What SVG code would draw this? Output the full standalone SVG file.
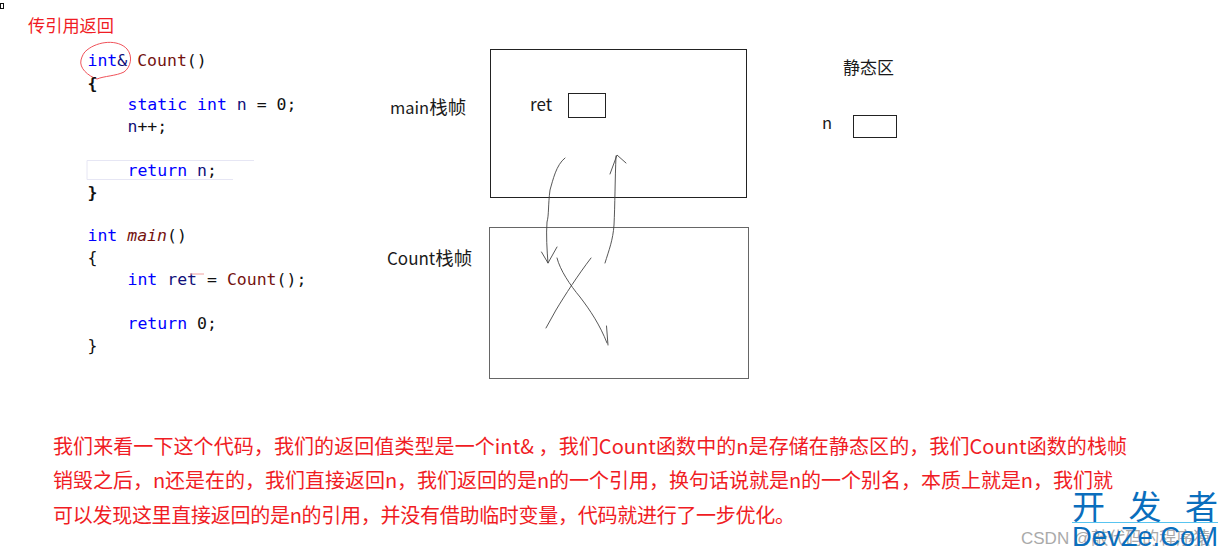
<svg xmlns="http://www.w3.org/2000/svg" width="1228" height="557" viewBox="0 0 1228 557">
<style>
.code{font-family:"DejaVu Sans Mono","Liberation Mono",monospace;font-size:16.5px;fill:#111;white-space:pre}
.k{fill:#0000ff}.f{fill:#74120f}.v{fill:#10107a}
.lab{font-family:"Noto Sans CJK SC","Noto Sans",sans-serif;font-size:16.5px;fill:#1a1a1a}
.cjk{font-size:18.5px}
.red{font-family:"Noto Sans CJK SC","Noto Sans",sans-serif;font-size:20px;fill:#f01c24}
.box{fill:#fff;stroke:#222;stroke-width:1}
.hand{fill:none;stroke:#444;stroke-width:.9;stroke-linecap:round;stroke-linejoin:round}
</style>
<rect width="1228" height="557" fill="#fff"/>
<rect x="0.500" y="3.500" width="3" height="5" fill="none" stroke="#111"/>
<text class="red" x="28" y="32" style="font-size:17.2px">传引用返回</text>
<path d="M87 50C98 41 118 39 127 49C133 56 131 67 124 72C116 76 104 76 97 79C88 76 79 68 81 60C82 56 84 52 87 50Z" fill="none" stroke="#f0525a" stroke-width="1"/>
<g id="code">
<text class="code" x="87.500" y="66"><tspan class="k">int</tspan><tspan class="v">&amp;</tspan> <tspan class="f">Count</tspan>()</text>
<text class="code" x="87.500" y="89" font-weight="bold">{</text>
<text class="code" x="127.500" y="110"><tspan class="k">static int</tspan> <tspan class="v">n</tspan> = 0;</text>
<text class="code" x="127.500" y="132"><tspan class="v">n</tspan>++;</text>
<path d="M254 160.500H87V179.500H233" fill="none" stroke="#e6e6f4" stroke-width="1"/>
<text class="code" x="127.500" y="176"><tspan class="k">return</tspan> <tspan class="v">n</tspan>;</text>
<text class="code" x="87.500" y="198" font-weight="bold">}</text>
<text class="code" x="87.500" y="241"><tspan class="k">int</tspan> <tspan class="f" font-style="italic">main</tspan>()</text>
<text class="code" x="87.500" y="263">{</text>
<text class="code" x="127.500" y="285"><tspan class="k">int</tspan> <tspan class="v">ret</tspan> = <tspan class="f">Count</tspan>();</text>
<path d="M190 274H204" stroke="#f0a0a0" stroke-width="1"/>
<text class="code" x="127.500" y="329"><tspan class="k">return</tspan> 0;</text>
<text class="code" x="87.500" y="351">}</text>
</g>
<g id="main-frame">
<rect class="box" x="490.500" y="49.500" width="256" height="148"/>
<text class="lab" x="390" y="114">main<tspan class="cjk">栈帧</tspan></text>
<text class="lab" x="530" y="111" style="font-size:17px">ret</text>
<rect class="box" x="568.500" y="93.500" width="37" height="24"/>
</g>
<g id="count-frame">
<rect class="box" x="489.500" y="227.500" width="259" height="151" style="stroke:#666"/>
<text class="lab" x="387" y="265" style="font-size:17px">Count<tspan class="cjk">栈帧</tspan></text>
</g>
<g id="static-area">
<text class="lab" x="843" y="74" style="font-size:17px">静态区</text>
<text class="lab" x="822" y="129">n</text>
<rect class="box" x="853.500" y="115.500" width="43" height="22"/>
</g>
<g id="connectors">
<path class="hand" d="M565 158C556 165 553 180 550 190C548 205 549 215 547 222C546 235 547 250 548 263"/>
<path class="hand" d="M541.500 252L548 263L557 247"/>
<path class="hand" d="M605 263C609 250 613 240 614 225C615 205 615 180 616 156"/>
<path class="hand" d="M610 174L617 155L626 163"/>
<path class="hand" d="M591 258C578 275 565 295 556 310L546 328"/>
<path class="hand" d="M557 258C560 270 570 285 580 297C590 310 600 325 607 343"/>
<path class="hand" d="M606.500 326L608 345"/>
</g>
<g id="explanation">
<text class="red" x="53" y="454" textLength="1074">我们来看一下这个代码，我们的返回值类型是一个int&amp; ，我们Count函数中的n是存储在静态区的，我们Count函数的栈帧</text>
<text class="red" x="53" y="488" textLength="1060">销毁之后，n还是在的，我们直接返回n，我们返回的是n的一个引用，换句话说就是n的一个别名，本质上就是n，我们就</text>
<text class="red" x="53" y="523" textLength="742">可以发现这里直接返回的是n的引用，并没有借助临时变量，代码就进行了一步优化。</text>
</g>
<g id="watermark">
<text x="1021" y="544" font-family="'Liberation Sans','Noto Sans CJK SC',sans-serif" font-size="17" fill="#aaa">CSDN @敲代码的程序猿</text>
<text x="1072" y="519" font-family="'Noto Sans CJK SC',sans-serif" font-size="33" fill="#0a6ebd" textLength="146">开 发 者</text>
<path d="M1072 522.500H1218" stroke="#58c4f0" stroke-width="1"/>
<text x="1072" y="546" font-family="'Liberation Sans',sans-serif" font-size="28" fill="#0a6ebd" textLength="146" lengthAdjust="spacingAndGlyphs">DevZe.CoM</text>
</g>
</svg>
